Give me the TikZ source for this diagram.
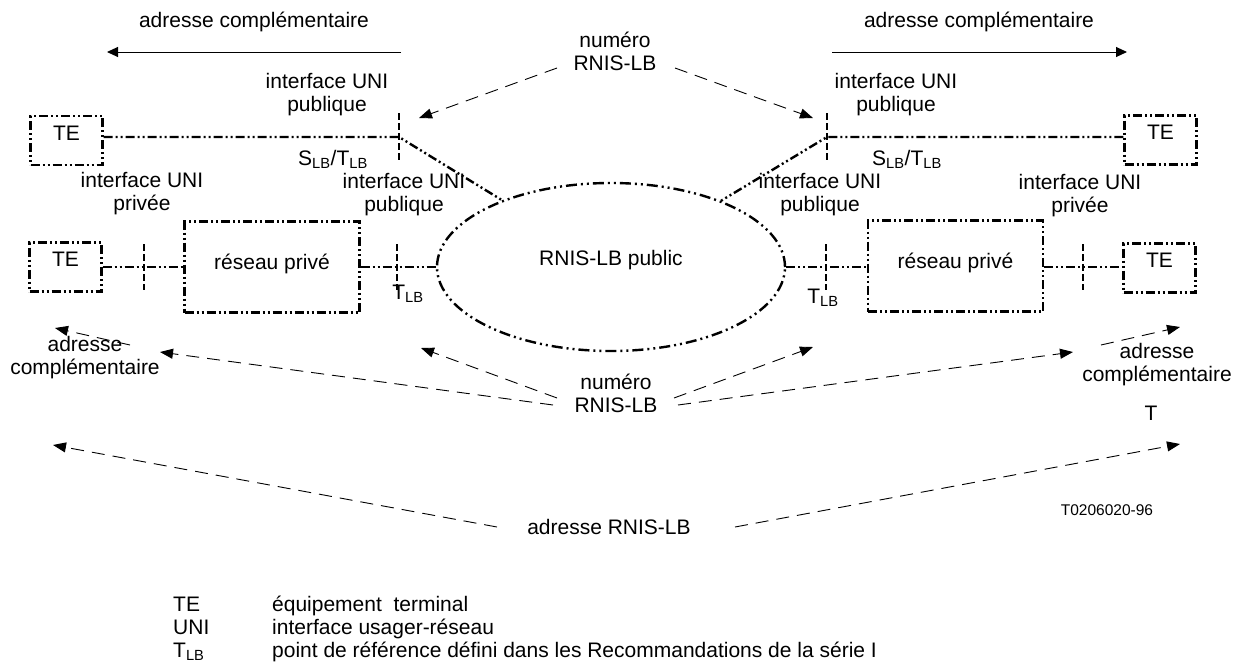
\documentclass[tikz,border=0pt]{standalone}
\usepackage{fontspec}
\setmainfont{Liberation Sans}
\usetikzlibrary{arrows.meta,shapes.geometric,calc}
\begin{document}
\begin{tikzpicture}[x=1pt,y=-1pt,
  txt/.style={font=\fontsize{21}{23}\selectfont, align=center, inner sep=0pt},
  ddd/.style={line width=2.4pt, dash pattern=on 9pt off 3pt on 2pt off 3pt on 2pt off 3pt},
  ddde/.style={line width=2.4pt, dash pattern=on 11pt off 4pt on 2pt off 4pt on 2pt off 4pt},
  tebox/.style={draw, ddd, minimum width=72pt, minimum height=49pt, inner sep=0pt,
    font=\fontsize{21}{23}\selectfont, text height=15pt, text depth=16pt},
  rpbox/.style={draw, ddd, minimum width=175pt, minimum height=91pt, inner sep=0pt,
    font=\fontsize{21}{23}\selectfont, text height=15pt, text depth=10pt},
  tickline/.style={line width=2.2pt, dash pattern=on 7pt off 3pt},
  refarrow/.style={line width=0.9pt, dash pattern=on 13pt off 8pt, -{Triangle[length=13pt,width=10pt]}},
  solarrow/.style={line width=1pt, -{Triangle[length=11pt,width=10pt]}},
  legtxt/.style={font=\fontsize{21}{23}\selectfont, inner sep=0pt, anchor=base west}
]
\useasboundingbox (0,0) rectangle (1235,662);

% top arrows
\node[txt] (acTL) at (254,22) {adresse complémentaire};
\coordinate (aTLs) at (401,52); \coordinate (aTLe) at (107,52);
\draw[solarrow] (aTLs) -- (aTLe);
\node[txt] (acTR) at (979,22) {adresse complémentaire};
\coordinate (aTRs) at (832,52); \coordinate (aTRe) at (1127,52);
\draw[solarrow] (aTRs) -- (aTRe);

% top numero
\node[txt] (numT) at (615,51) {numéro\\RNIS-LB};
\coordinate (nTl) at (557,68); \coordinate (nTr) at (675,68);
\coordinate (tipTL) at (419,118); \coordinate (tipTR) at (813,118);
\draw[refarrow] (nTl) -- (tipTL);
\draw[refarrow] (nTr) -- (tipTR);

% public network
\node[ellipse, draw, ddde, minimum width=348pt, minimum height=168pt, inner sep=0pt,
  font=\fontsize{21}{23}\selectfont, text height=15pt, text depth=18pt] (pub) at (611,267) {RNIS-LB public};

% row 1
\node[tebox] (teTL) at (66.5,140.5) {TE};
\node[tebox] (teTR) at (1160.5,140) {TE};
\coordinate (jTL) at (399,137); \coordinate (jTR) at (827,137);
\draw[ddd] (teTL.east |- jTL) -- (jTL) -- (pub);
\draw[ddd] (teTR.west |- jTR) -- (jTR) -- (pub);
\draw[tickline] ([yshift=24pt]jTL) -- ([yshift=-23pt]jTL);
\draw[tickline] ([yshift=24pt]jTR) -- ([yshift=-23pt]jTR);
\node[txt] (uniTL) at (327,95) {interface UNI\\publique};
\node[txt] (uniTR) at (896,95) {interface UNI\\publique};
\node[txt] (stL) at (333,159) {S\textsubscript{LB}/T\textsubscript{LB}};
\node[txt] (stR) at (907,159) {S\textsubscript{LB}/T\textsubscript{LB}};

% row 2
\node[tebox] (teBL) at (65.5,267) {TE};
\node[rpbox] (rpL) at (272,267) {réseau privé};
\node[rpbox] (rpR) at (955.5,266) {réseau privé};
\node[tebox] (teBR) at (1159.5,268) {TE};
\coordinate (j1) at (144,267); \coordinate (j2) at (397,267);
\coordinate (j3) at (826,267); \coordinate (j4) at (1083,267);
\draw[ddd] (teBL.east |- j1) -- (j1) -- (rpL.west |- j1);
\draw[ddd] (rpL.east |- j2) -- (j2) -- (pub.west);
\draw[ddd] (pub.east) -- (j3) -- (rpR.west |- j3);
\draw[ddd] (rpR.east |- j4) -- (j4) -- (teBR.west |- j4);
\foreach \j in {j1,j2,j3,j4}
  \draw[tickline] ([yshift=23pt]\j) -- ([yshift=-23pt]\j);
\node[txt] (uniPL) at (142,194) {interface UNI\\privée};
\node[txt] (uniML) at (404,195) {interface UNI\\publique};
\node[txt] (uniMR) at (820,195) {interface UNI\\publique};
\node[txt] (uniPR) at (1080,196) {interface UNI\\privée};
\node[txt] (tL) at (408,294) {T\textsubscript{LB}};
\node[txt] (tR) at (823,298) {T\textsubscript{LB}};

% bottom
\node[txt] (numB) at (616,393) {numéro\\RNIS-LB};
\node[txt] (acBL) at (85,358) {adresse\\complémentaire};
\node[txt] (acBR) at (1157,365) {adresse\\complémentaire};
\node[txt] (tT) at (1151,413) {T};
\node[txt] (adrB) at (609,527) {adresse RNIS-LB};
\node[font=\fontsize{15.5}{17}\selectfont, inner sep=0pt] (code) at (1107,510) {T0206020-96};

\coordinate (b1s) at (130,345); \coordinate (b1e) at (55,328);
\coordinate (b2s) at (553,405); \coordinate (b2e) at (160,352);
\coordinate (b3s) at (557,398); \coordinate (b3e) at (421,348);
\coordinate (b4s) at (674,398); \coordinate (b4e) at (813,347);
\coordinate (b5s) at (678,405); \coordinate (b5e) at (1073,352);
\coordinate (b6s) at (1101,345); \coordinate (b6e) at (1180,327);
\coordinate (b7s) at (497,527); \coordinate (b7e) at (53,445);
\coordinate (b8s) at (735,527); \coordinate (b8e) at (1180,444);
\foreach \s/\e in {b1s/b1e,b2s/b2e,b3s/b3e,b4s/b4e,b5s/b5e,b6s/b6e,b7s/b7e,b8s/b8e}
  \draw[refarrow] (\s) -- (\e);

% legend
\node[legtxt] (lg1a) at (173,611) {TE};
\node[legtxt] (lg1b) at (272,611) {équipement\ \ terminal};
\node[legtxt] (lg2a) at (173,634) {UNI};
\node[legtxt] (lg2b) at (272,634) {interface usager-réseau};
\node[legtxt] (lg3a) at (173,657) {T\textsubscript{LB}};
\node[legtxt] (lg3b) at (272,657) {point de référence défini dans les Recommandations de la série I};
\end{tikzpicture}
\end{document}
